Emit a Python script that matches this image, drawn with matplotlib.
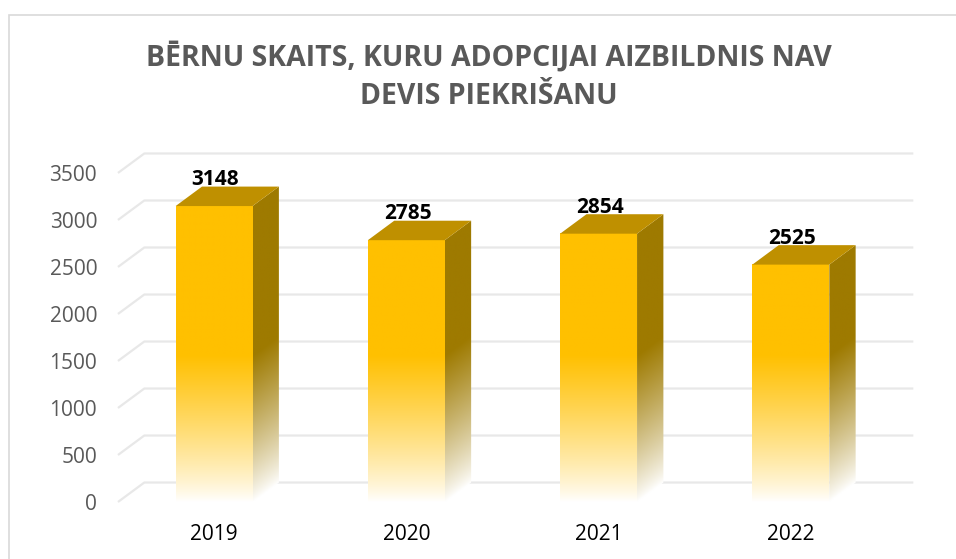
import numpy as np
import matplotlib.pyplot as plt
from matplotlib.patches import Polygon, Rectangle
from matplotlib.colors import to_rgb

# ---- Data ----
years = ["2019", "2020", "2021", "2022"]
counts = [3148, 2785, 2854, 2525]
y_ticks = [0, 500, 1000, 1500, 2000, 2500, 3000, 3500]
title_lines = ["BĒRNU SKAITS, KURU ADOPCIJAI AIZBILDNIS NAV", "DEVIS PIEKRIŠANU"]

plt.rcParams['font.family'] = ['Open Sans', 'DejaVu Sans']

# ---- Style ----
front_col = np.array(to_rgb('#FFC000'))
side_col = np.array(to_rgb('#9E7A00'))
top_col = '#BF9000'
white = np.ones(3)
grid_col = '#E8E8E8'

bar_w = 0.4
dx, dy = 0.137, 207   # depth of the 3d boxes, in data units
fade = 1560           # values below this fade out to white


def fade_rgb(col, t):
    t = np.clip(t, 0, 1)[..., None] ** 0.85
    return white * (1 - t) + col * t


fig = plt.figure(figsize=(9.56, 5.59), dpi=100)
ax = fig.add_axes([0.1234, 0.1020, 0.8044, 0.5886])
x = np.arange(len(years))
x0, x1 = -0.5, len(years) - 0.5

# ---- Back wall / side wall gridlines ----
for v in y_ticks:
    ax.plot([x0, x0 + dx, x1 + dx], [v, v + dy, v + dy], color=grid_col,
            lw=1.6, clip_on=False, zorder=0, solid_capstyle='butt')

# ---- 3d bars ----
for xi, v in zip(x, counts):
    left, right = xi - bar_w / 2, xi + bar_w / 2

    # front face, vertical fade
    ys = np.linspace(0, v, 300)
    img = fade_rgb(front_col, ys / fade)[:, None, :]
    ax.imshow(img, extent=(left, right, 0, v), origin='lower', aspect='auto',
              interpolation='bilinear', zorder=3)

    # side face, fade follows the slanted bottom edge
    gx = np.linspace(0, 1, 40)
    gy = np.linspace(0, v + dy, 300)
    GX, GY = np.meshgrid(gx, gy)
    img = fade_rgb(side_col, (GY - GX * dy) / fade)
    side = Polygon([(right, 0), (right + dx, dy), (right + dx, v + dy), (right, v)],
                   closed=True, fc='none', ec='none')
    ax.add_patch(side)
    im = ax.imshow(img, extent=(right, right + dx, 0, v + dy), origin='lower',
                   aspect='auto', interpolation='bilinear', zorder=2)
    im.set_clip_path(side)

    # top face
    ax.add_patch(Polygon([(left, v), (right, v), (right + dx, v + dy), (left + dx, v + dy)],
                         closed=True, fc=top_col, ec='none', zorder=3))

    ax.annotate(f"{v}", (xi, v + dy), xytext=(1, 5), textcoords='offset points',
                ha='center', va='center', fontsize=15, fontweight='bold',
                color='black', zorder=5)

# ---- Axes ----
ax.set_xlim(x0, x1)
ax.set_ylim(0, 3500)
ax.set_xticks(x, years)
ax.set_yticks(y_ticks)
ax.tick_params(axis='y', length=0, pad=15, labelsize=15, labelcolor='#595959')
ax.tick_params(axis='x', length=0, pad=16, labelsize=15, labelcolor='black')
for s in ax.spines.values():
    s.set_visible(False)
ax.patch.set_alpha(0)

# ---- Title ----
fig.text(0.5115, 1 - 57 / 559, title_lines[0], ha='center', va='center',
         fontsize=20.5, fontweight='bold', color='#595959')
fig.text(0.5115, 1 - 97 / 559, title_lines[1], ha='center', va='center',
         fontsize=20.5, fontweight='bold', color='#595959')

# ---- Chart area border ----
fig.add_artist(Rectangle((8.5 / 956, -0.1), 1.5, 1.1 - 15.5 / 559,
                         transform=fig.transFigure, fill=False,
                         ec='#D9D9D9', lw=1.2))

fig.savefig("out.png", dpi=100)
